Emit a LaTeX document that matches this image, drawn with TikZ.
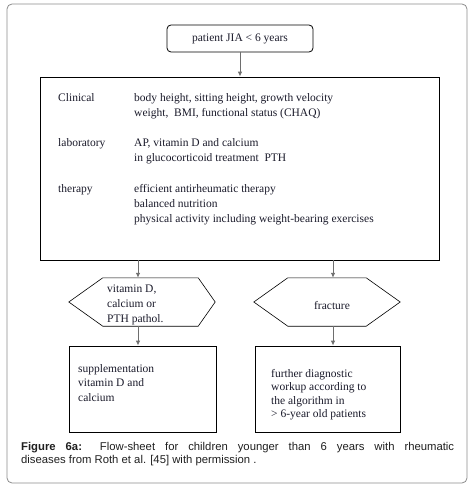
\documentclass[tikz,border=0pt]{standalone}
\usepackage{fontspec}
\setmainfont{Liberation Serif}
\newfontfamily\capfont{Liberation Sans}
\usetikzlibrary{arrows.meta,calc}
\definecolor{txt}{HTML}{1A1A2A}
\definecolor{framec}{HTML}{8C8C8C}
\definecolor{conn}{HTML}{6E6E6E}
\tikzset{
  box/.style={draw=black, line width=0.8pt, inner sep=0pt},
  hexbox/.style={draw=none, inner sep=0pt},
  hexline/.style={draw=black, line width=0.6pt},
  lbl/.style={anchor=base west, inner sep=0pt, text=txt, font=\fontsize{11.5}{13}\selectfont},
  conn/.style={draw=conn, line width=0.9pt, -{Latex[length=5pt,width=4.5pt]}},
}
\begin{document}
\begin{tikzpicture}[x=1pt,y=-1pt]
\useasboundingbox (0,0) rectangle (472,486);
\draw[framec, line width=0.8pt, rounded corners=5pt] (7,4) rectangle (467,483);

% top box
\node[box, rounded corners=4pt, minimum width=146pt, minimum height=27pt, text=txt, font=\fontsize{11.5}{13}\selectfont] (top) at (240,38.5) {patient JIA < 6 years};

% main box
\node[box, minimum width=399pt, minimum height=183pt] (main) at (239.5,168.5) {};
\node[lbl] (c1) at (58,102) {Clinical};
\node[lbl] (c1a) at (134,102) {body height, sitting height, growth velocity};
\node[lbl] (c1b) at (134,117) {weight,\ \ BMI, functional status (CHAQ)};
\node[lbl] (c2) at (58,147) {laboratory};
\node[lbl] (c2a) at (134,147) {AP, vitamin D and calcium};
\node[lbl] (c2b) at (134,162) {in glucocorticoid treatment\ \ PTH};
\node[lbl] (c3) at (58,192) {therapy};
\node[lbl] (c3a) at (134,192) {efficient antirheumatic therapy};
\node[lbl] (c3b) at (134,207) {balanced nutrition};
\node[lbl] (c3c) at (134,222) {physical activity including weight-bearing exercises};

\draw[conn] (top.south) -- (top.south |- main.north);

% hexagons
\node[hexbox, minimum width=146pt, minimum height=48pt] (hexL) at (142,302) {};
\draw[hexline] (hexL.west) -- ($(hexL.north west)+(34,0)$) -- ($(hexL.north east)+(-17,0)$) -- (hexL.east)
  -- ($(hexL.south east)+(-17,0)$) -- ($(hexL.south west)+(34,0)$) -- cycle;
\node[lbl] (hl1) at (107,292) {vitamin D,};
\node[lbl] (hl2) at (107,307) {calcium or};
\node[lbl] (hl3) at (107,322) {PTH pathol.};

\node[hexbox, minimum width=146pt, minimum height=48pt] (hexR) at (327,302) {};
\draw[hexline] (hexR.west) -- ($(hexR.north west)+(34,0)$) -- ($(hexR.north east)+(-34,0)$) -- (hexR.east)
  -- ($(hexR.south east)+(-34,0)$) -- ($(hexR.south west)+(34,0)$) -- cycle;
\node[lbl, anchor=base] (hr1) at (332,309) {fracture};

% lower boxes
\node[box, minimum width=147pt, minimum height=86pt] (boxL) at (142.5,389) {};
\node[lbl] (bl1) at (78,372) {supplementation};
\node[lbl] (bl2) at (78,386.5) {vitamin D and};
\node[lbl] (bl3) at (78,401) {calcium};

\node[box, minimum width=145pt, minimum height=86pt] (boxR) at (327.5,389) {};
\node[lbl] (br1) at (271,377) {further diagnostic};
\node[lbl] (br2) at (271,390.5) {workup according to};
\node[lbl] (br3) at (271,404) {the algorithm in};
\node[lbl] (br4) at (271,417.5) {> 6-year old patients};

% connectors
\coordinate (mL) at (138,260);
\coordinate (mR) at (333,260);
\draw[conn] (mL) -- (mL |- hexL.north);
\draw[conn] (mR) -- (mR |- hexR.north);
\draw[conn] (mL |- hexL.south) -- (mL |- boxL.north);
\draw[conn] (mR |- hexR.south) -- (mR |- boxR.north);

% caption
\node[anchor=north west, inner sep=0pt, text width=433pt, align=justify, text=black!88,
  font=\capfont\fontsize{11.3}{13.2}\selectfont] (cap) at (21,442)
  {\textbf{Figure 6a:} Flow-sheet for children younger than 6 years with rheumatic\linebreak diseases from Roth et al. [45] with permission .};
\end{tikzpicture}
\end{document}
